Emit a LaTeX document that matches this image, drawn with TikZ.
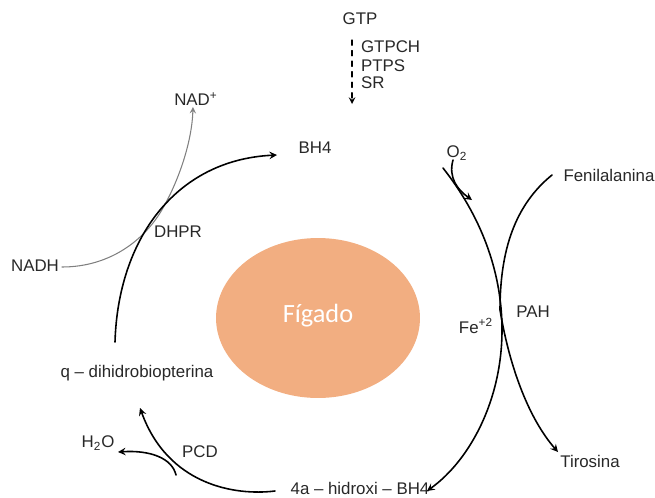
\documentclass[tikz,border=0pt]{standalone}
\usepackage{fontspec}
\setmainfont{Liberation Sans}
\newfontfamily\liverfont{Carlito}
\usetikzlibrary{shapes.geometric}
\definecolor{liver}{RGB}{242,174,129}
\definecolor{txt}{RGB}{40,40,40}
\begin{document}
\begin{tikzpicture}[x=0.02cm,y=-0.02cm, line join=round, line cap=round, >=stealth,
		lbl/.style={text=txt,font=\fontsize{9.6}{11}\selectfont,inner sep=1pt},
		cyc/.style={draw=black,line width=0.9pt},
		aux/.style={draw=gray,line width=0.6pt}]
				\useasboundingbox (0,0) rectangle (655,497);
				% liver
				\node[ellipse,fill=liver,minimum width=4.08cm,minimum height=3.2cm,inner sep=0pt] (liv) at (318,318) {};
				\node[text=white,font=\liverfont\fontsize{15}{17}\selectfont] (figado) at (318,316) {Fígado};
				% synthesis from GTP
				\node[lbl] (gtp) at (360,19) {GTP};
				\coordinate (dtop) at (352,40);
				\coordinate (dbot) at (352,104);
				\draw[->,dashed,line width=0.7pt] (dtop)--(dbot);
				\node[lbl,anchor=west] (gtpch) at (359,47) {GTPCH};
				\node[lbl,anchor=west] (ptps) at (359,66) {PTPS};
				\node[lbl,anchor=west] (sr) at (359,83) {SR};
				% metabolites
				\node[lbl] (bh) at (315,148) {BH4};
				\node[lbl] (nadp) at (196,99) {NAD\textsuperscript{+}};
				\node[lbl] (nadh) at (35,266) {NADH};
				\node[lbl] (dhpr) at (178,232) {DHPR};
				\node[lbl] (otwo) at (457,153) {O\textsubscript{2}};
				\node[lbl] (fen) at (609,175) {Fenilalanina};
				\node[lbl] (fe) at (476,326) {Fe\textsuperscript{+2}};
				\node[lbl] (pah) at (533,312) {PAH};
				\node[lbl] (tir) at (590,461) {Tirosina};
				\node[lbl] (hbh) at (360,488) {4a -- hidroxi -- BH4};
				\node[lbl] (qdh) at (137,373) {q -- dihidrobiopterina};
				\node[lbl] (water) at (98,443) {H\textsubscript{2}O};
				\node[lbl] (pcd) at (200,452) {PCD};
				% curve ends
				\coordinate (a1) at (115,342);
				\coordinate (a2) at (277,155);
				\coordinate (j1) at (163,208);
				\coordinate (n1) at (62,267);
				\coordinate (n2) at (193,107);
				\coordinate (b1) at (443,168);
				\coordinate (b2) at (502,330);
				\coordinate (b3) at (427,491);
				\coordinate (f1) at (552,175);
				\coordinate (f2) at (500,310);
				\coordinate (f3) at (558,452);
				\coordinate (o1) at (453,160);
				\coordinate (o2) at (472,200);
				\coordinate (c1) at (275,491);
				\coordinate (c2) at (140,408);
				\coordinate (w1) at (176,475);
				\coordinate (w2) at (118,452);
				% cycle
				\draw[aux,->] (n1) .. controls (110,267) and (145,240) .. (j1) .. controls (180,178) and (192,140) .. (n2);
				\draw[cyc,->] (a1) .. controls (118,240) and (175,160) .. (a2);
				\draw[cyc,->] (b1) .. controls (480,215) and (502,270) .. (b2) .. controls (502,400) and (470,460) .. (b3);
				\draw[cyc,->] (f1) .. controls (515,205) and (500,250) .. (f2) .. controls (510,370) and (530,420) .. (f3);
				\draw[cyc,->] (o1) .. controls (448,178) and (458,190) .. (o2);
				\draw[cyc,->] (c1) .. controls (235,496) and (168,485) .. (c2);
				\draw[cyc,->] (w1) .. controls (172,458) and (150,450) .. (w2);
			\end{tikzpicture}
\end{document}
